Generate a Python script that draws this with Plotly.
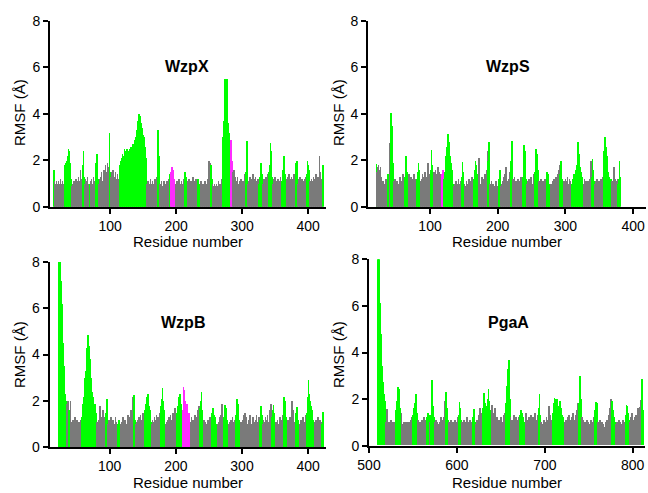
import plotly.graph_objects as go

# ---------------- data (RMSF per residue, Å) ----------------
WZPX_START = 15
WZPX_RMSF = [
    1.6,
    1.1, 0.9, 1.0, 1.1, 0.8, 1.0, 1.1, 0.9, 1.0, 1.2, 0.9, 1.0, 1.1, 0.9, 1.0,
    1.5, 1.8, 1.9, 1.7, 2.0, 2.2, 2.5, 2.4, 1.9, 1.6, 1.2,
    0.9, 1.0, 0.8, 1.1, 1.0, 0.9, 1.2, 1.0, 1.1, 0.9, 1.3, 1.0, 1.1, 1.6, 1.2, 1.0, 1.1,
    1.8, 2.4, 1.3,
    1.0, 1.2, 0.9, 1.1, 1.3, 1.0, 0.9,
    1.0, 0.9,
    1.1, 1.2, 0.8, 1.0, 1.3, 1.1, 1.0,
    1.4, 1.9, 2.3, 1.6, 1.2,
    1.0, 1.2, 1.1, 1.3, 1.5, 1.1, 1.0, 1.4, 1.6, 1.2, 1.8, 1.5, 1.3, 1.9, 1.7, 1.4,
    3.2, 1.5,
    1.3, 1.5, 1.2, 1.6, 1.4, 1.1, 1.3, 1.5, 1.2, 1.0, 1.4, 1.2, 1.1, 1.3,
    1.8, 2.0, 1.9, 2.1, 2.3, 2.0, 2.2, 2.5, 2.1, 2.4,
    2.3, 2.5, 2.2, 2.4, 2.1, 2.5, 2.3, 2.6, 2.4, 2.5,
    2.7, 2.6, 2.9, 2.8, 3.0, 2.9, 3.3, 3.7, 3.9, 4.0,
    3.9, 3.8, 3.6, 3.4, 2.9, 3.1, 3.0, 2.8, 2.6, 2.1,
    1.0, 0.9, 1.1, 0.8, 1.0, 0.9, 1.2, 1.0, 0.9, 1.1, 1.0, 0.8, 1.0, 1.2, 0.9, 1.1, 1.3,
    1.8, 3.3, 2.2, 1.2,
    1.0, 0.9, 1.1, 0.8, 0.9, 1.0, 1.1, 0.9, 0.8, 1.0, 1.1, 0.9, 1.0, 1.2,
    1.4, 1.2,
    1.5, 1.6, 1.7, 1.6, 1.4, 1.2, 1.0,
    1.0, 0.9, 1.1, 0.8, 1.0, 1.2, 0.9, 1.0, 0.8, 1.1, 0.9, 1.0, 1.2, 1.1,
    1.5, 1.4, 1.3, 1.0,
    1.1, 1.0, 0.9, 1.2, 1.0, 0.8, 1.1, 0.9, 1.0, 1.3, 1.1, 0.9, 1.0, 1.2, 1.0, 0.9,
    1.2, 1.1, 1.0, 0.9,
    1.0, 1.1, 0.8, 0.9, 1.0, 0.7, 0.9, 1.1, 1.0, 0.8, 0.9, 1.2, 1.5, 2.0, 1.9,
    1.4, 1.8, 1.2,
    1.0, 0.9, 0.8, 1.0, 0.7, 0.9, 1.0, 0.8, 0.9, 1.1, 1.0, 0.8, 0.9, 1.0, 1.2,
    1.8, 3.0, 3.5, 3.7, 5.5, 4.2, 3.4, 5.5, 4.3, 3.6, 3.2, 2.8, 2.4,
    2.9, 2.8, 2.0,
    1.5, 1.2, 1.6, 1.3, 1.0, 1.1, 0.9, 1.3, 1.0, 0.8, 1.1, 1.0, 1.2, 0.9, 1.0, 1.1, 0.8, 1.0, 1.4, 1.2,
    1.5, 2.85, 1.4,
    1.0, 1.1, 0.9, 1.3, 1.2, 1.0, 1.1, 1.4, 0.9, 1.0, 1.2, 1.3, 1.0, 1.1, 0.9, 1.2, 1.0,
    1.0, 1.3, 1.7, 1.9, 1.4, 1.1,
    1.0, 1.2, 0.9, 1.1, 1.3, 1.0, 1.2, 1.4, 1.1,
    1.5, 1.8, 2.75, 2.4, 1.3,
    1.0, 0.9, 1.2, 1.1, 1.3, 1.0, 0.8, 1.1, 1.2, 1.0, 0.9, 1.1, 1.3, 1.0,
    1.1, 1.3, 1.6, 2.2, 2.1, 1.4, 1.0,
    1.2, 1.1, 1.3, 1.0, 1.4, 1.2, 1.1, 0.9, 1.3, 1.2, 1.0, 1.1, 1.4, 1.2,
    1.3, 1.9, 2.0, 1.2,
    1.0, 1.2, 1.1, 1.3, 0.9, 1.0, 1.2, 1.1, 1.0, 0.8, 1.2, 1.1, 1.3,
    1.4, 2.0, 1.8, 1.6, 1.2,
    1.1, 1.0, 1.2, 0.9, 1.1, 1.3, 1.0, 1.2, 1.1, 1.4, 1.0, 1.2, 1.3, 1.1, 2.2, 1.5, 1.2, 1.0, 1.1,
    1.8,
]
WZPX_GREEN = [(15, 15), (31, 41), (59, 61), (69, 70), (78, 82), (99, 100), (115, 154),
              (172, 175), (190, 191), (213, 216), (233, 236), (252, 254), (270, 282),
              (306, 308), (326, 331), (341, 345), (360, 366), (381, 384), (398, 402), (422, 422)]
WZPX_MAGENTA = [(192, 198), (283, 285)]

WZPS_START = 21
WZPS_RMSF = [
    1.85,
    1.5, 1.7, 1.8, 1.6, 1.4, 1.7, 1.3, 1.0, 0.9, 1.1, 0.8, 1.0, 0.9, 1.2, 0.9, 1.0,
    1.4, 1.1,
    2.3, 2.75,
    4.05, 3.9, 3.5, 1.9,
    1.1, 0.9, 1.2, 0.8, 1.0, 1.1, 0.9, 0.8, 1.0, 1.2, 1.3, 0.9, 1.0, 1.1, 1.4, 1.2, 1.0,
    1.3, 1.6, 2.2, 1.5, 1.1,
    1.2, 1.4, 1.1, 1.0, 1.3, 1.2, 0.9, 1.1, 1.4, 1.3, 1.0, 1.2, 1.1,
    1.2, 1.5, 1.9, 1.6, 1.0,
    1.1, 0.9, 1.2, 1.4, 1.0, 1.3, 1.1, 1.5, 1.2, 1.0, 1.3, 1.9, 1.6, 1.4, 1.2,
    1.6, 2.45, 1.8, 1.3,
    1.3, 1.5, 1.2, 1.6, 1.4, 1.1, 1.3, 1.7, 1.5, 1.2, 1.4, 1.1, 1.2,
    1.4, 1.6, 1.3,
    1.2, 1.5, 1.8, 2.2, 2.6, 2.9, 3.15, 2.8, 2.5, 2.2, 1.9, 1.6, 1.3, 1.0,
    0.9, 0.8, 1.0, 1.1, 0.9, 0.8, 1.0, 1.2, 0.9, 1.0, 0.8, 1.1,
    1.3, 1.95, 1.5, 1.0,
    1.0, 0.9, 0.8, 1.1, 1.0, 0.7, 0.9, 1.2, 1.0, 0.8, 1.1, 1.3, 1.0, 0.9,
    1.2, 1.6, 2.0, 1.8, 1.4, 1.1, 0.9,
    2.1, 1.2, 1.0, 0.9, 1.1, 1.3, 1.0, 0.8, 1.2, 1.4, 1.0, 1.3, 1.6, 2.4,
    2.0, 2.8, 1.5,
    1.0, 0.9, 1.1, 0.8, 1.0, 1.0, 0.9, 0.8, 1.1, 1.0, 0.9, 0.8, 1.0,
    1.2, 1.6, 1.0,
    0.9, 1.0, 1.1, 0.8, 1.3, 1.0, 1.4, 1.7, 1.2, 1.0, 1.1, 0.9, 1.2, 1.5, 1.8,
    2.0, 2.83, 1.6,
    1.2, 1.0, 1.3, 0.9, 1.1, 1.0, 0.8, 1.2, 1.0, 0.9, 1.1, 1.3, 1.0, 1.2,
    1.3, 2.0, 2.65, 2.4, 2.1, 1.2,
    1.0, 0.9, 1.1, 1.2, 0.8, 1.0, 1.3, 1.1, 0.9, 1.0, 1.2, 1.4,
    1.5, 1.8, 2.5, 2.3, 1.6, 1.2,
    1.1, 1.0, 0.9, 1.2, 1.0, 0.8, 1.1, 0.9, 1.0, 1.2, 0.9,
    1.1, 1.5, 1.4, 1.2, 1.0, 0.9,
    0.8, 1.0, 0.9, 1.1, 1.0, 1.2, 0.9, 1.1, 1.3, 1.0, 1.2, 1.4, 1.6, 1.8,
    1.4, 2.0, 1.7, 1.2, 1.0,
    1.0, 1.1, 0.9, 1.2, 1.0, 1.1, 1.3, 0.9, 1.0, 1.2, 1.1, 0.9, 1.0,
    1.0, 1.2, 1.1, 1.4, 1.3, 1.6, 1.5, 1.8, 2.1, 2.8, 2.3, 1.9, 1.7, 1.5, 1.3, 1.1, 1.0,
    1.0, 1.2, 0.9, 1.1, 1.0, 0.8, 1.1, 0.9, 1.0, 1.2, 1.5, 2.0,
    1.3, 2.05, 1.6, 1.1, 0.9,
    1.0, 1.1, 0.9, 1.2, 1.0, 0.8, 1.1, 1.0, 0.9, 1.2, 1.1, 1.3,
    1.7, 2.4, 3.0, 2.75, 2.6, 2.2, 1.8, 1.5, 1.3, 1.1, 1.0, 1.2,
    1.0, 1.1, 0.9, 1.4, 1.7, 1.2, 1.0, 1.1, 0.9, 1.2,
    1.0, 1.2, 2.0, 1.3,
]
WZPS_GREEN = [(21, 21), (38, 39), (42, 45), (63, 67), (81, 85), (101, 104), (121, 134),
              (147, 150), (165, 171), (186, 188), (202, 204), (220, 222), (237, 242),
              (255, 260), (272, 277), (292, 296), (310, 326), (339, 343), (356, 367), (378, 381)]
WZPS_MAGENTA = [(118, 120)]

WZPB_START = 22
WZPB_RMSF = [
    8.0, 8.0, 8.0, 8.0, 7.2, 6.2, 5.3, 4.5, 3.5, 2.8, 2.3, 2.0,
    1.5, 1.9, 2.0, 1.8,
    1.6, 1.4,
    2.0, 1.1, 0.9, 1.0, 1.2, 0.8, 1.1, 1.3, 1.0, 0.9, 1.2, 1.0, 0.8, 1.1, 1.0, 0.9, 1.2,
    1.3, 1.6, 1.9, 2.2, 2.6, 3.0, 3.3, 3.9, 4.3, 4.85, 4.6, 4.4, 3.8, 3.5, 3.0, 2.6,
    2.4, 2.2, 2.0, 1.9, 1.9, 1.7, 1.5,
    1.1, 1.0, 0.9, 1.2, 1.4, 1.8, 1.3, 1.0, 1.2, 1.6, 1.1, 0.9, 1.3, 1.0,
    1.5, 2.1, 1.3,
    1.0, 1.2, 0.9, 1.1, 1.3, 1.0, 0.8, 1.2, 1.1, 0.9, 1.0, 1.3, 1.1, 0.9, 1.0,
    1.0, 1.2, 1.1, 0.9,
    1.0, 0.9, 1.1, 1.3, 1.0, 0.8, 1.2, 1.1, 0.9, 1.0, 1.2, 1.4, 1.1, 1.0, 1.3, 1.6, 1.2, 1.4, 2.2,
    1.8, 2.25, 2.0, 1.2,
    1.0, 1.1, 0.9, 1.2, 1.0, 1.3, 1.1, 1.4, 1.2, 1.0, 1.3, 1.5, 1.2,
    1.3, 1.6, 1.9, 2.0, 2.2, 2.3, 2.1, 1.8, 1.6, 1.3, 1.1,
    1.0, 1.2, 0.9, 1.1, 1.3, 1.0, 1.2, 1.4, 1.1, 1.3, 1.0, 1.2, 1.5,
    1.4, 1.8, 2.1, 2.55, 2.0, 1.6, 1.3, 1.0,
    1.0, 1.1, 0.9, 1.2, 1.0, 1.3, 1.1, 1.4, 1.2, 1.0, 1.3, 1.5, 1.1, 1.4, 1.7, 1.5,
    1.3, 1.5, 1.8, 2.0, 2.2, 2.1, 2.3, 1.9, 1.7, 1.4,
    1.6, 2.6, 2.5, 2.0, 1.6, 1.5, 1.9, 1.7, 1.4, 1.5, 1.2, 1.0,
    1.1, 1.3, 1.0, 1.2, 0.9, 1.1, 1.4, 1.2, 1.0, 1.3, 1.5, 1.6, 1.8, 1.4,
    1.7, 2.0, 2.4, 1.6, 1.1,
    1.0, 1.2, 0.9, 1.1, 1.0, 0.8, 1.1, 1.2, 0.9, 1.0, 1.3, 1.1,
    1.2, 1.5, 1.7, 1.6, 1.4, 1.3, 1.1, 1.0, 0.9, 0.8,
    1.0, 1.1, 1.3, 1.2, 1.0, 1.4, 1.9, 1.5, 1.2,
    1.3, 1.6, 1.85, 1.7, 1.5, 1.2, 1.0, 0.9,
    1.0, 1.1, 0.9, 1.2, 1.0, 1.3, 1.1, 0.9, 1.0, 1.2,
    1.4, 1.8, 2.1, 1.9, 1.5, 1.2, 1.0,
    1.0, 1.1, 0.9, 1.2, 1.0, 1.4, 1.2, 1.5, 1.1, 1.3, 1.0, 0.9, 1.2, 1.0, 1.4,
    1.1, 0.9, 1.0, 1.2, 1.3, 1.0, 1.1, 0.9, 1.2, 1.4, 1.1, 1.0, 1.2, 1.3,
    1.2, 1.5, 1.8, 1.4, 1.0,
    1.0, 1.2, 0.9, 1.1, 1.3, 1.0, 1.2, 1.4, 1.1, 1.0, 1.3, 1.6, 1.9, 1.4,
    1.3, 1.6, 1.85, 1.5, 1.1,
    1.0, 1.1, 0.9, 1.2, 1.0, 0.8, 1.1, 1.3, 1.0, 1.2, 1.1, 1.4,
    1.6, 2.2, 2.0, 1.7, 1.3, 1.1,
    1.0, 1.2, 1.1, 0.9, 1.3, 1.0, 1.5, 2.0, 1.6, 1.2, 1.0, 1.1,
    1.2, 1.5, 1.75, 1.6, 1.2, 1.0,
    1.0, 0.9, 1.2, 1.1, 1.0, 1.3, 0.9, 1.1, 1.0, 1.2, 1.4, 1.3,
    1.5, 2.2, 2.9, 2.3, 2.0, 1.9, 1.8, 1.6, 1.4, 1.2, 1.0,
    1.1, 0.9, 1.2, 1.0, 1.1, 1.3, 1.0, 0.9, 1.2, 1.0, 1.1,
    1.0, 1.3, 1.55,
]
WZPB_GREEN = [(22, 33), (38, 39), (57, 79), (94, 96), (112, 115), (135, 138), (152, 162),
              (176, 183), (200, 209), (236, 240), (253, 262), (272, 279), (290, 296),
              (326, 330), (345, 349), (362, 367), (380, 385), (398, 408), (420, 422)]
WZPB_MAGENTA = [(210, 221)]

PGAA_START = 510
PGAA_RMSF = [
    8.0, 8.0, 7.8, 6.1, 4.8, 3.4, 2.7, 2.2, 1.9,
    1.0, 1.55, 1.1, 0.9, 1.0, 0.8, 1.1, 0.9, 1.0, 0.8, 0.9, 1.0,
    1.5, 1.9, 2.5, 2.4, 1.6, 1.2,
    1.4, 0.9, 0.8, 1.0, 0.9, 1.0, 0.8, 1.0, 0.9, 1.0, 0.9, 1.1, 1.2,
    1.3, 1.6, 1.8, 2.2, 1.9, 1.4,
    1.1, 0.9, 1.0, 0.8, 1.1, 0.9, 1.0, 1.2, 1.0, 1.1,
    1.2, 1.4, 1.3,
    1.0, 0.9,
    1.3, 2.8, 1.7, 1.2,
    1.0, 1.1, 0.9, 1.0, 0.8, 0.9, 1.0, 1.2, 1.1, 0.9, 1.2, 1.9,
    1.5, 2.3, 1.6, 1.1,
    1.0, 0.9, 1.1, 1.0, 0.8, 1.0, 0.9, 1.1, 1.0, 0.9, 1.2,
    1.3, 1.85, 1.6, 1.1,
    1.0, 0.9, 1.1, 0.8, 1.0, 1.2, 0.9, 1.0, 0.8, 1.1, 0.9, 1.0,
    1.2, 1.55, 1.3, 1.0,
    0.9, 1.1, 1.0, 1.3, 1.6, 1.2, 1.0, 1.4,
    1.6, 2.25, 1.8, 1.4, 1.7, 2.0, 2.4, 1.9, 1.5, 1.2,
    1.75, 1.4, 1.3, 1.6, 1.1, 1.0, 1.2, 0.9, 1.1, 1.0, 1.2, 0.9, 1.0, 1.1, 1.3, 1.4,
    1.8, 2.55, 3.3, 3.65, 2.0,
    1.2, 1.0, 1.1, 0.9, 1.3, 1.0, 1.2, 1.1, 0.9, 1.0, 1.2,
    1.3, 1.5, 1.4, 1.2, 1.0, 0.9,
    1.0, 1.4, 1.1, 0.9, 1.2, 1.0, 1.3, 1.1, 1.0, 1.2, 0.9, 1.4, 1.1, 1.0, 1.3,
    1.6, 2.2, 1.3,
    1.0, 0.8, 0.9, 1.1, 0.9, 1.0, 1.2, 1.0, 1.1, 1.7, 1.3, 1.0, 1.1,
    1.4, 1.8, 2.05, 2.0, 1.9, 2.0, 1.7, 1.5, 1.9, 1.6, 1.4, 1.3, 1.2, 1.0,
    1.0, 1.1, 0.9, 1.2, 1.0, 1.3, 1.1, 0.9, 1.2, 1.4, 1.1, 1.0, 1.3, 1.2, 1.5, 1.8,
    1.8, 3.0, 2.0,
    1.2, 1.0, 1.1, 0.9, 1.0, 0.8, 1.1, 1.0, 0.9, 0.8, 1.0, 1.1, 0.9, 1.0, 1.2,
    1.5, 1.85, 1.8, 1.2,
    1.0, 0.9, 1.1, 0.8, 1.0, 0.9, 0.7, 0.8, 1.0, 0.9, 1.1, 1.0, 1.3, 1.6, 2.0,
    1.9, 1.8, 1.5, 1.2, 1.0,
    0.9, 1.0, 0.8, 1.1, 0.9, 1.0, 0.8, 0.9, 1.1, 1.0, 0.9,
    1.3, 1.75, 1.7, 1.4, 1.1,
    1.0, 1.2, 1.4, 1.1, 1.0, 0.9, 1.2, 1.3, 1.0, 1.6, 1.5, 1.65, 1.95, 1.4,
    2.85, 1.5,
]
PGAA_GREEN = [(510, 518), (531, 536), (550, 555), (566, 568), (571, 574), (587, 590),
              (602, 605), (618, 621), (630, 639), (656, 660), (672, 677), (693, 695),
              (709, 722), (739, 741), (757, 760), (776, 780), (792, 796), (811, 812)]
PGAA_MAGENTA = []

PANEL_NAMES = ["WzpX", "WzpS", "WzpB", "PgaA"]
X_TICKS_A = [100, 200, 300, 400]
X_TICKS_B = [500, 600, 700, 800]
Y_TICKS = [0, 2, 4, 6, 8]

# ---------------- styling ----------------
GRAY = "#7a7a7a"
GREEN = "#00ff00"
MAGENTA = "#ff2bff"
FONT = "Arial, Liberation Sans, Helvetica, sans-serif"
W, H = 648, 493


def colors_for(start, values, green, magenta):
    out = []
    for i in range(len(values)):
        r = start + i
        if any(a <= r <= b for a, b in magenta):
            out.append(MAGENTA)
        elif any(a <= r <= b for a, b in green):
            out.append(GREEN)
        else:
            out.append(GRAY)
    return out


panels = [
    (WZPX_START, WZPX_RMSF, WZPX_GREEN, WZPX_MAGENTA),
    (WZPS_START, WZPS_RMSF, WZPS_GREEN, WZPS_MAGENTA),
    (WZPB_START, WZPB_RMSF, WZPB_GREEN, WZPB_MAGENTA),
    (PGAA_START, PGAA_RMSF, PGAA_GREEN, PGAA_MAGENTA),
]

# pixel geometry of each plot area: (x_left, x_right, y_zero, y_eight)
geom = [
    (50, 326, 206.7, 20.7),
    (368, 646, 206.7, 20.7),
    (49.5, 326, 447.3, 261.7),
    (369, 645, 445.7, 259.3),
]
xranges = [[9, 427], [8.4, 419], [9, 427], [500, 814]]

fig = go.Figure()
for k, (start, vals, green, magenta) in enumerate(panels):
    sfx = "" if k == 0 else str(k + 1)
    fig.add_trace(go.Bar(
        x=list(range(start, start + len(vals))),
        y=vals,
        width=1,
        marker=dict(color=colors_for(start, vals, green, magenta), line=dict(width=0)),
        xaxis="x" + sfx, yaxis="y" + sfx,
        showlegend=False,
        name=PANEL_NAMES[k],
    ))

layout = dict(
    width=W, height=H, autosize=False,
    margin=dict(l=0, r=0, t=0, b=0, pad=0, autoexpand=False),
    paper_bgcolor="white", plot_bgcolor="white",
    bargap=0,
    font=dict(family=FONT, color="black", size=14),
    annotations=[],
)

axis_common = dict(
    showgrid=False, zeroline=False, showline=True, linecolor="black", linewidth=2,
    ticks="outside", ticklen=5, tickwidth=1.5, tickcolor="black", automargin=False,
    tickfont=dict(family=FONT, size=14, color="black"),
)

for k in range(4):
    xl, xr, y0, y8 = geom[k]
    sfx = "" if k == 0 else str(k + 1)
    layout["xaxis" + sfx] = dict(
        axis_common,
        domain=[xl / W, xr / W],
        range=xranges[k],
        tickvals=X_TICKS_B if k == 3 else X_TICKS_A,
        anchor="y" + sfx,
    )
    layout["yaxis" + sfx] = dict(
        axis_common,
        domain=[1 - y0 / H, 1 - y8 / H],
        range=[0, 8],
        tickvals=Y_TICKS,
        anchor="x" + sfx,
    )

# panel titles and axis titles (pixel positions -> paper coords)
title_pos = [(187, 66), (508, 66), (183, 322), (508, 322)]
ytitle_pos = [(19, 113), (338, 113), (19, 355), (338, 355)]
xtitle_pos = [(188, 241), (507, 241), (188, 482), (507, 482)]
for k in range(4):
    tx, ty = title_pos[k]
    layout["annotations"].append(dict(
        text="<b>%s</b>" % PANEL_NAMES[k], x=tx / W, y=1 - ty / H,
        xref="paper", yref="paper", showarrow=False,
        font=dict(family=FONT, size=16, color="black"),
        xanchor="center", yanchor="middle"))
    yx, yy = ytitle_pos[k]
    layout["annotations"].append(dict(
        text="RMSF (Å)", x=yx / W, y=1 - yy / H, textangle=-90,
        xref="paper", yref="paper", showarrow=False,
        font=dict(family=FONT, size=15, color="black"),
        xanchor="center", yanchor="middle"))
    xx, xy = xtitle_pos[k]
    layout["annotations"].append(dict(
        text="Residue number", x=xx / W, y=1 - xy / H,
        xref="paper", yref="paper", showarrow=False,
        font=dict(family=FONT, size=15, color="black"),
        xanchor="center", yanchor="middle"))

fig.update_layout(**layout)
fig.write_html(
    "out.html",
    config={"responsive": False, "displayModeBar": False},
    post_script="document.body.style.margin='0px';document.body.style.overflow='hidden';",
)
